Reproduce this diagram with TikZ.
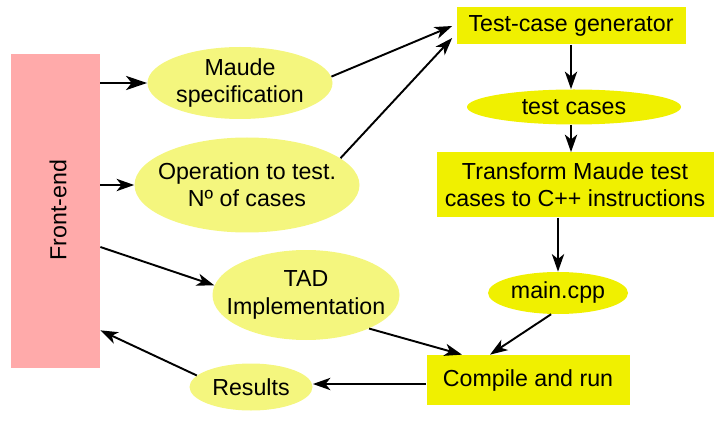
\documentclass[tikz,border=0pt]{standalone}
\usepackage{fontspec}
\setmainfont{Liberation Sans}
\usetikzlibrary{shapes.geometric,arrows.meta}

\definecolor{frontpink}{HTML}{FFAAAA}
\definecolor{paleyellow}{HTML}{F4F67E}
\definecolor{boxyellow}{HTML}{F0F000}

\tikzset{
	every node/.style={font=\fontsize{13.2}{15.6}\selectfont, align=center},
	blob/.style={ellipse, fill=paleyellow, inner sep=-2cm},
	hotblob/.style={ellipse, fill=boxyellow, inner sep=-2cm},
	stage/.style={rectangle, fill=boxyellow, inner sep=0pt},
	flow/.style={-{Stealth[length=10pt,width=7pt,inset=2.8pt]}, line width=1.1pt}
}

\begin{document}
\begin{tikzpicture}
				\useasboundingbox (0,0) rectangle (14.3,-8.58);
				
				\node[fill=frontpink, minimum width=1.78cm, minimum height=6.28cm] (FrontEnd) at (1.11,-4.22) {};
				\node[rotate=90] (FrontEndText) at (1.16,-4.2) {Front-end};
				
				% ellipses
				\node[blob, minimum width=3.7cm, minimum height=1.44cm] (MaudeSpec) at (4.8,-1.66) {Maude\\specification};
				\node[blob, minimum width=4.5cm, minimum height=1.9cm] (OpTest) at (4.94,-3.7) {Operation to test.\\Nº of cases};
				\node[blob, minimum width=3.74cm, minimum height=1.8cm] (TAD) at (6.12,-5.9) {TAD\\Implementation};
				\node[blob, minimum width=2.46cm, minimum height=0.94cm] (Results) at (5.02,-7.74) {Results};
				\node[hotblob, minimum width=4.28cm, minimum height=0.7cm] (TestCases) at (11.48,-2.14) {test cases};
				\node[hotblob, minimum width=2.8cm, minimum height=0.84cm] (MainCpp) at (11.16,-5.86) {main.cpp};
				
				% boxes
				\node[stage, minimum width=4.58cm, minimum height=0.74cm] (Generator) at (11.42,-0.52) {Test-case generator};
				\node[stage, minimum width=5.54cm, minimum height=1.3cm] (Transform) at (11.5,-3.7) {Transform Maude test\\cases to C++ instructions};
				\node[stage, minimum width=4.06cm, minimum height=1.0cm] (Compile) at (10.56,-7.6) {Compile and run};
				
				\draw[flow, line width=1.5pt, -{Stealth[length=12pt,width=8pt,inset=3.2pt]}] (FrontEnd.east |- MaudeSpec) -- (MaudeSpec.west);
				\draw[flow] (FrontEnd.east |- OpTest) -- (OpTest.west);
				\draw[flow] ([yshift=-0.72cm]FrontEnd.east) -- (TAD.174);
				\draw[flow] (Results.168) -- ([yshift=0.76cm]FrontEnd.south east);
				\draw[flow] (MaudeSpec.4) -- ([xshift=-0.08cm]Generator.west);
				\draw[flow] (OpTest.16) -- ([xshift=-0.08cm,yshift=-0.24cm]Generator.west);
				\draw[flow] (Generator.south) -- (Generator.south |- TestCases.north);
				\draw[flow] (Generator.south |- TestCases.south) -- (Generator.south |- Transform.north);
				\draw[flow] (MainCpp.north |- Transform.south) -- (MainCpp.north);
				\draw[flow] (MainCpp.252) -- ([xshift=-0.76cm]Compile.north);
				\draw[flow] (TAD.-28) -- ([xshift=-1.32cm]Compile.north);
				\draw[flow] ([yshift=-0.08cm]Compile.west) -- ([yshift=-0.08cm]Compile.west -| Results.east);
			\end{tikzpicture}
\end{document}
